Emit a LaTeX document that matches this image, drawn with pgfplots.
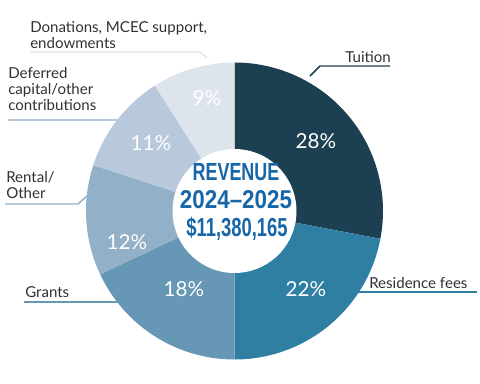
\documentclass[border=0pt]{standalone}
\usepackage{pgfplots}
\pgfplotsset{compat=1.18}
\usepackage{pgfplotstable}
\usepackage{fontspec}
\setmainfont{Lato}
\newfontfamily\headfont{Liberation Sans}
\definecolor{cTui}{HTML}{1D3F52}
\definecolor{cRes}{HTML}{2F7FA3}
\definecolor{cGra}{HTML}{6697B5}
\definecolor{cRen}{HTML}{92B1C8}
\definecolor{cDef}{HTML}{B7C9DA}
\definecolor{cDon}{HTML}{DDE4EC}
\definecolor{cTxt}{HTML}{2E3236}
\definecolor{cHead}{HTML}{1766A8}
% revenue shares (percent), clockwise from 12 o'clock
\pgfplotstableread{
label start pct
Tuition 0 28
Residence 28 22
Grants 50 18
Rental 68 12
Deferred 80 11
Donations 91 9
}\revtable
\newcommand{\wedgeplot}[3]{%
  \addplot[draw=none, fill=#3, domain=0:1, samples=90]
    ({234.5+148.5*cos(90-3.6*(#1+#2*x))}, {211-148.5*sin(90-3.6*(#1+#2*x))})
    -- (axis cs:234.5,211) -- cycle;
}
\begin{document}
\begin{tikzpicture}
\begin{axis}[
  width=360bp, height=288bp, scale only axis,
  xmin=0, xmax=480, ymin=0, ymax=384, y dir=reverse,
  hide axis, clip=false]
\wedgeplot{0}{28}{cTui}
\wedgeplot{28}{22}{cRes}
\wedgeplot{50}{18}{cGra}
\wedgeplot{68}{12}{cRen}
\wedgeplot{80}{11}{cDef}
\wedgeplot{91}{9}{cDon}
\addplot[draw=none, fill=white, domain=0:360, samples=120]
  ({234.5+62*cos(x)},{211-62*sin(x)}) -- cycle;
% percentage labels
\begin{scope}[every node/.style={text=white, font=\fontsize{15.5bp}{18bp}\selectfont, inner sep=0pt}]
\node at (axis cs:316,141) {28\%};
\node at (axis cs:306,289) {22\%};
\node at (axis cs:184,289) {18\%};
\node at (axis cs:127,242) {12\%};
\node at (axis cs:151,143) {11\%};
\node at (axis cs:207,98) {9\%};
\end{scope}
% centre title
\node[anchor=base, inner sep=0pt, text=cHead] at (axis cs:236,180) {\headfont\bfseries\resizebox{65bp}{12.8bp}{REVENUE}};
\node[anchor=base, inner sep=0pt, text=cHead] at (axis cs:236,208) {\headfont\bfseries\resizebox{84bp}{13.5bp}{2024–2025}};
\node[anchor=base, inner sep=0pt, text=cHead] at (axis cs:237,236) {\headfont\bfseries\resizebox{76bp}{14.5bp}{\$11,380,165}};
% leader lines
\draw[cTui, line width=1.1bp] (axis cs:310,76) -- (axis cs:320,66) -- (axis cs:390,66);
\draw[cRes, line width=1.1bp] (axis cs:335,292) -- (axis cs:477,292);
\draw[cGra, line width=1.1bp] (axis cs:24,302) -- (axis cs:118,302);
\draw[cRen, line width=1.1bp] (axis cs:5,204) -- (axis cs:78,204) -- (axis cs:87,196);
\draw[cDef, line width=1.1bp] (axis cs:8,120) -- (axis cs:118,120);
\draw[cDon, line width=1.1bp] (axis cs:30,52) -- (axis cs:200,52) -- (axis cs:207,58);
% category labels
\begin{scope}[every node/.style={text=cTxt, font=\fontsize{11.3bp}{13bp}\selectfont, inner sep=0pt, anchor=base west}]
\node at (axis cs:345,62) {Tuition};
\node at (axis cs:369,288) {Residence fees};
\node at (axis cs:25,297) {Grants};
\node at (axis cs:6,182) {Rental/};
\node at (axis cs:6,198) {Other};
\node at (axis cs:8,78) {Deferred};
\node at (axis cs:8,94) {capital/other};
\node at (axis cs:8,110) {contributions};
\node at (axis cs:30,32) {Donations, MCEC support,};
\node at (axis cs:30,48) {endowments};
\end{scope}
\end{axis}
\pgfresetboundingbox
\path (current axis.south west) rectangle (current axis.north east);
\end{tikzpicture}
\end{document}
